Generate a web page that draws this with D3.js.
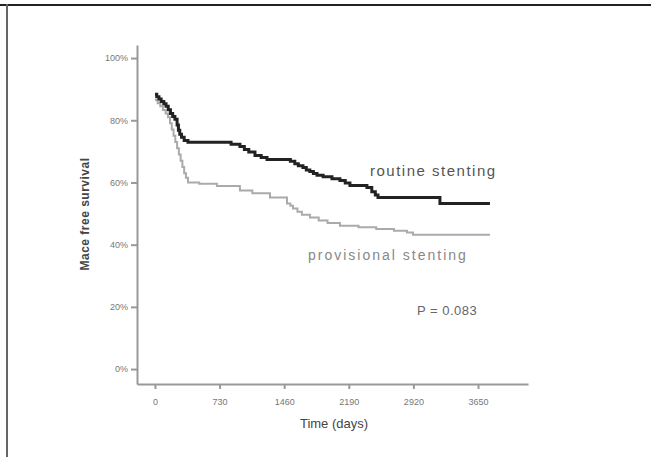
<!DOCTYPE html>
<html lang="en">
<head>
  <meta charset="utf-8">
  <title>Mace free survival</title>
  <script src="https://d3js.org/d3.v7.min.js"></script>
  <style>
    body { margin: 0; background: #fff; }
    .axis text { font: 9px "Liberation Sans", Arial, sans-serif; fill: #777; }
    .axis path, .axis line { stroke: #999; stroke-width: 2; fill: none; }
  </style>
</head>
<body>
<div id="chart"></div>
<script>
  // Kaplan-Meier curves (days, % survival)
  var routineDays = [0, 20, 45, 70, 100, 125, 150, 175, 200, 225, 250, 265, 280, 300, 330, 373,
    860, 960, 1010, 1060, 1130, 1200, 1266, 1530, 1580, 1620, 1672, 1710, 1750, 1790, 1831,
    1900, 2000, 2090, 2150, 2203, 2395, 2450, 2490, 2520, 3186, 3220, 3785];
  var routineSurv = [88.4, 87.6, 86.8, 86.0, 85.3, 84.5, 83.4, 82.2, 81.2, 80.3, 78.5, 76.8, 75.5, 74.5, 73.5, 72.9,
    72.3, 71.6, 70.6, 69.8, 68.7, 68.0, 67.4, 66.8, 66.0, 65.4, 64.8, 64.0, 63.5, 62.9, 62.3,
    61.8, 61.2, 60.6, 59.8, 59.0, 58.4, 57.0, 56.0, 55.2, 55.2, 53.2, 53.2];
  var provDays = [0, 30, 60, 90, 120, 147, 170, 190, 210, 230, 250, 270, 290, 310, 330, 350, 373,
    500, 700, 960, 1100, 1300, 1492, 1530, 1560, 1610, 1660, 1751, 1850, 1950, 2090,
    2300, 2500, 2700, 2847, 2915, 3785];
  var provSurv = [86.5, 85.5, 84.5, 83.3, 82.2, 81.0, 79.0, 77.0, 75.0, 73.0, 71.0, 69.0, 67.0, 65.0, 63.0, 61.5, 60.0,
    59.6, 58.9, 57.4, 56.5, 55.2, 53.2, 52.5, 51.6, 50.6, 49.6, 48.7, 47.8, 47.0, 46.1,
    45.6, 45.0, 44.5, 43.9, 43.2, 43.2];
  var xTicks = [0, 730, 1460, 2190, 2920, 3650];
  var yTicks = [0, 20, 40, 60, 80, 100];

  var W = 651, H = 457;
  var svg = d3.select('#chart').append('svg')
    .attr('width', W).attr('height', H);

  // frame: top and left edges only
  svg.append('line').attr('x1', 0).attr('x2', W).attr('y1', 5).attr('y2', 5)
    .attr('stroke', '#222').attr('stroke-width', 2);
  svg.append('line').attr('x1', 7).attr('x2', 7).attr('y1', 4).attr('y2', H)
    .attr('stroke', '#666').attr('stroke-width', 2);

  var x = d3.scaleLinear().domain([-203, 4215]).range([137, 528]);
  var y = d3.scaleLinear().domain([-4.8, 104.2]).range([384, 45]);

  svg.append('g').attr('class', 'axis')
    .attr('transform', 'translate(0,384)')
    .call(d3.axisBottom(x).tickValues(xTicks).tickSize(5).tickSizeOuter(0).tickPadding(10).tickFormat(d3.format('d')));

  svg.append('g').attr('class', 'axis')
    .attr('transform', 'translate(137,0)')
    .call(d3.axisLeft(y).tickValues(yTicks).tickSize(6).tickSizeOuter(0).tickPadding(3).tickFormat(d => d + '%'));

  var line = d3.line()
    .x(d => x(d[0]))
    .y(d => y(d[1]))
    .curve(d3.curveStepAfter);

  svg.append('path')
    .datum(d3.zip(provDays, provSurv))
    .attr('d', line)
    .attr('fill', 'none').attr('stroke', '#aaa').attr('stroke-width', 2);

  svg.append('path')
    .datum(d3.zip(routineDays, routineSurv))
    .attr('d', line)
    .attr('fill', 'none').attr('stroke', '#222').attr('stroke-width', 3);

  var font = '"Liberation Sans", Arial, sans-serif';
  svg.append('text').attr('x', 370).attr('y', 176)
    .style('font', '15px ' + font).style('letter-spacing', '1.5px').attr('fill', '#555').text('routine stenting');
  svg.append('text').attr('x', 308).attr('y', 260)
    .style('font', '14px ' + font).style('letter-spacing', '2px').attr('fill', '#888').text('provisional stenting');
  svg.append('text').attr('x', 417).attr('y', 315)
    .style('font', '13px ' + font).style('letter-spacing', '0.5px').attr('fill', '#666').text('P = 0.083');

  svg.append('text').attr('x', 334).attr('y', 428).attr('text-anchor', 'middle')
    .style('font', '13px ' + font).attr('fill', '#444').text('Time (days)');
  svg.append('text')
    .attr('transform', 'translate(89,214) rotate(-90)').attr('text-anchor', 'middle')
    .style('font', 'bold 12px ' + font).style('letter-spacing', '0.5px').attr('fill', '#444').text('Mace free survival');
</script>
</body>
</html>
